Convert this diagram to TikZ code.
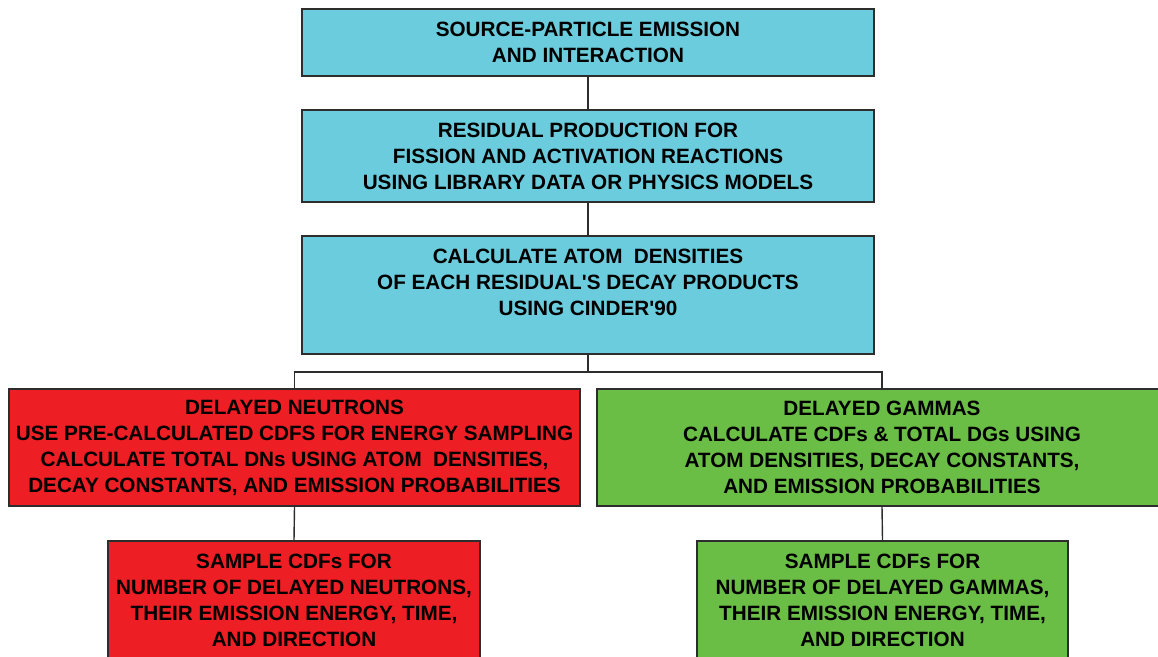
\documentclass[tikz,border=0pt]{standalone}
\usepackage{fontspec}
\setmainfont{Liberation Sans}[Ligatures=TeXOff]
\definecolor{boxcyan}{RGB}{106,204,220}
\definecolor{boxred}{RGB}{237,30,36}
\definecolor{boxgreen}{RGB}{106,189,69}
\definecolor{edgegray}{RGB}{45,45,45}
\tikzset{
  box/.style={draw=edgegray, line width=1.6pt, align=center, inner sep=0pt,
    font=\fontsize{20.7}{26}\selectfont\bfseries, text=black},
  cyanbox/.style={box, fill=boxcyan, minimum width=572pt},
  redbox/.style={box, fill=boxred},
  greenbox/.style={box, fill=boxgreen},
  link/.style={draw=edgegray, line width=1.4pt}
}
\begin{document}
\begin{tikzpicture}[x=1pt,y=-1pt]
\useasboundingbox (0,0) rectangle (1158,656);
\clip (0,0) rectangle (1158,656);
\node[cyanbox, minimum height=67pt] (src) at (588,42.5)
  {SOURCE-PARTICLE EMISSION\\ AND INTERACTION};
\node[cyanbox, minimum height=92pt] (res) at (588,156)
  {RESIDUAL PRODUCTION FOR\\ FISSION AND ACTIVATION REACTIONS\\ USING LIBRARY DATA OR PHYSICS MODELS};
\node[cyanbox, minimum height=118pt] (cin) at (588,295)
  {CALCULATE ATOM\ \ DENSITIES\\ OF EACH RESIDUAL'S DECAY PRODUCTS\\ USING CINDER'90\\ \mbox{}};
\node[redbox, minimum width=571pt, minimum height=117pt] (dn) at (294.5,447.5)
  {DELAYED NEUTRONS\\ USE PRE-CALCULATED CDFS FOR ENERGY SAMPLING\\ CALCULATE TOTAL DNs USING ATOM\ \ DENSITIES,\\ DECAY CONSTANTS, AND EMISSION PROBABILITIES};
\node[greenbox, minimum width=570pt, minimum height=117pt] (dg) at (882,447.5)
  {DELAYED GAMMAS\\ CALCULATE CDFs \& TOTAL DGs USING\\ ATOM DENSITIES, DECAY CONSTANTS,\\ AND EMISSION PROBABILITIES};
\node[redbox, minimum width=372pt, minimum height=119pt] (sn) at (294,600.5)
  {SAMPLE CDFs FOR\\ NUMBER OF DELAYED NEUTRONS,\\ THEIR EMISSION ENERGY, TIME,\\ AND DIRECTION};
\node[greenbox, minimum width=371pt, minimum height=119pt] (sg) at (882.5,600.5)
  {SAMPLE CDFs FOR\\ NUMBER OF DELAYED GAMMAS,\\ THEIR EMISSION ENERGY, TIME,\\ AND DIRECTION};
\draw[link] (src.south) -- (res.north);
\draw[link] (res.south) -- (cin.north);
\draw[link] (cin.south) -- ++(0,17) coordinate (split);
\draw[link] (split) -| (dn.north);
\draw[link] (split) -| (dg.north);
\draw[link] (dn.south) -- (sn.north);
\draw[link] (dg.south) -- (sg.north);
\end{tikzpicture}
\end{document}
